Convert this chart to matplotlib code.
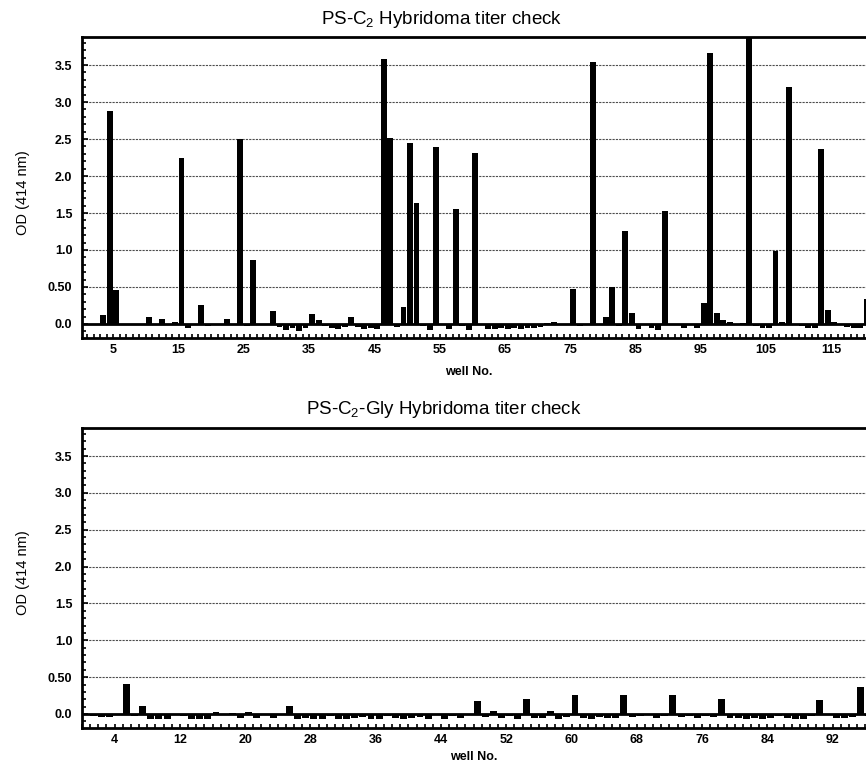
import matplotlib
matplotlib.use("Agg")
import matplotlib.pyplot as plt
from matplotlib.ticker import MultipleLocator

plt.rcParams["font.family"] = ["Liberation Sans", "DejaVu Sans"]
plt.rcParams["mathtext.default"] = "regular"

# PS-C2 plate, wells 1..120
top_wells = list(range(1, 121))
top_od = [
    0.00, -0.02, 0.12, 2.88, 0.46, 0.00, -0.01, 0.00, -0.01, 0.09,
    0.00, 0.07, 0.00, 0.03, 2.24, -0.05, 0.00, 0.25, -0.03, 0.00,
    0.00, 0.07, 0.00, 2.50, -0.03, 0.86, 0.00, -0.01, 0.17, -0.04,
    -0.08, -0.06, -0.09, -0.05, 0.14, 0.06, -0.03, -0.05, -0.07, -0.04,
    0.09, -0.04, -0.07, -0.06, -0.07, 3.58, 2.52, -0.04, 0.23, 2.45,
    1.63, -0.03, -0.08, 2.39, -0.02, -0.07, 1.55, -0.03, -0.08, 2.31,
    -0.02, -0.07, -0.07, -0.06, -0.07, -0.05, -0.07, -0.05, -0.06, -0.04,
    0.01, 0.02, -0.02, 0.00, 0.47, -0.03, 0.00, 3.54, -0.02, 0.09,
    0.50, -0.03, 1.26, 0.15, -0.07, -0.02, -0.05, -0.08, 1.53, 0.00,
    -0.02, -0.06, 0.00, -0.05, 0.29, 3.67, 0.15, 0.06, 0.02, 0.00,
    0.01, 3.86, -0.03, -0.06, -0.06, 0.99, 0.03, 3.20, 0.00, -0.03,
    -0.06, -0.06, 2.36, 0.19, 0.02, 0.00, -0.04, -0.06, -0.06, 0.34,
]
top_xticks = [5, 15, 25, 35, 45, 55, 65, 75, 85, 95, 105, 115]

# PS-C2-Gly plate, wells 1..96
bot_wells = list(range(1, 97))
bot_od = [
    -0.03, -0.04, -0.04, -0.02, 0.41, -0.03, 0.11, -0.07, -0.07, -0.07,
    -0.02, -0.03, -0.07, -0.07, -0.07, 0.03, 0.00, 0.01, -0.05, 0.03,
    -0.05, -0.02, -0.06, 0.00, 0.11, -0.07, -0.05, -0.07, -0.07, -0.03,
    -0.07, -0.07, -0.05, -0.04, -0.07, -0.07, -0.03, -0.05, -0.07, -0.06,
    -0.04, -0.07, -0.02, -0.07, -0.03, -0.06, -0.02, 0.18, -0.04, 0.04,
    -0.06, -0.03, -0.07, 0.20, -0.05, -0.06, 0.04, -0.07, -0.04, 0.26,
    -0.05, -0.07, -0.04, -0.06, -0.05, 0.26, -0.04, -0.03, -0.02, -0.05,
    -0.03, 0.26, -0.04, -0.03, -0.05, -0.03, -0.04, 0.20, -0.06, -0.06,
    -0.07, -0.06, -0.07, -0.05, -0.03, -0.06, -0.07, -0.07, -0.03, 0.19,
    -0.02, -0.05, -0.05, -0.04, 0.37, -0.03,
]
bot_xticks = [4, 12, 20, 28, 36, 44, 52, 60, 68, 76, 84, 92]

y_ticks = [0.0, 0.5, 1.0, 1.5, 2.0, 2.5, 3.0, 3.5]
y_labels = ["0.0", "0.50", "1.0", "1.5", "2.0", "2.5", "3.0", "3.5"]

fig = plt.figure(figsize=(8.66, 7.65), dpi=100)
W, H = 866.0, 765.0


def panel(rect_px, wells, od, xlim, xticks, bw):
    left, top, width, height = rect_px
    ax = fig.add_axes([left / W, 1 - (top + height) / H, width / W, height / H])
    ax.bar(wells, od, width=bw, align="edge", color="black", linewidth=0)
    ax.axhline(0, color="black", lw=2, zorder=3)
    ax.set_xlim(*xlim)
    ax.set_ylim(-0.19, 3.88)
    ax.set_yticks(y_ticks)
    ax.set_yticklabels(y_labels, fontweight="bold", fontsize=9)
    ax.yaxis.set_minor_locator(MultipleLocator(0.1))
    ax.set_xticks(xticks)
    ax.set_xticklabels([str(t) for t in xticks], fontweight="bold", fontsize=9)
    ax.xaxis.set_minor_locator(MultipleLocator(1))
    ax.tick_params(axis="both", which="both", direction="in", width=1.2)
    ax.tick_params(axis="y", which="major", length=4, pad=7)
    ax.tick_params(axis="y", which="minor", length=3)
    ax.tick_params(axis="x", which="both", length=3, pad=4)
    for y in y_ticks[1:]:
        ax.axhline(y, color="0.3", lw=0.8, ls=(0, (2, 1)), zorder=0)
    for s in ["top", "left", "bottom"]:
        ax.spines[s].set_linewidth(2)
    ax.spines["right"].set_visible(False)
    return ax


panel((82, 37, 788.5, 301), top_wells, top_od, (0.2, 121), top_xticks, 0.9)
panel((82, 428, 791.4, 300), bot_wells, bot_od, (0, 97), bot_xticks, 0.85)

fig.text(442 / W, 1 - 20 / H, "PS-C$_2$ Hybridoma titer check",
         ha="center", va="center", fontsize=13.5)
fig.text(444 / W, 1 - 410 / H, "PS-C$_2$-Gly Hybridoma titer check",
         ha="center", va="center", fontsize=13.5)
fig.text(469 / W, 1 - 372 / H, "well No.", ha="center", va="center",
         fontsize=9, fontweight="bold")
fig.text(474 / W, 1 - 757 / H, "well No.", ha="center", va="center",
         fontsize=9, fontweight="bold")
fig.text(23 / W, 1 - 193 / H, "OD (414 nm)", rotation=90, ha="center",
         va="center", fontsize=10.5)
fig.text(23 / W, 1 - 573 / H, "OD (414 nm)", rotation=90, ha="center",
         va="center", fontsize=10.5)

fig.savefig("out.png", dpi=100)
